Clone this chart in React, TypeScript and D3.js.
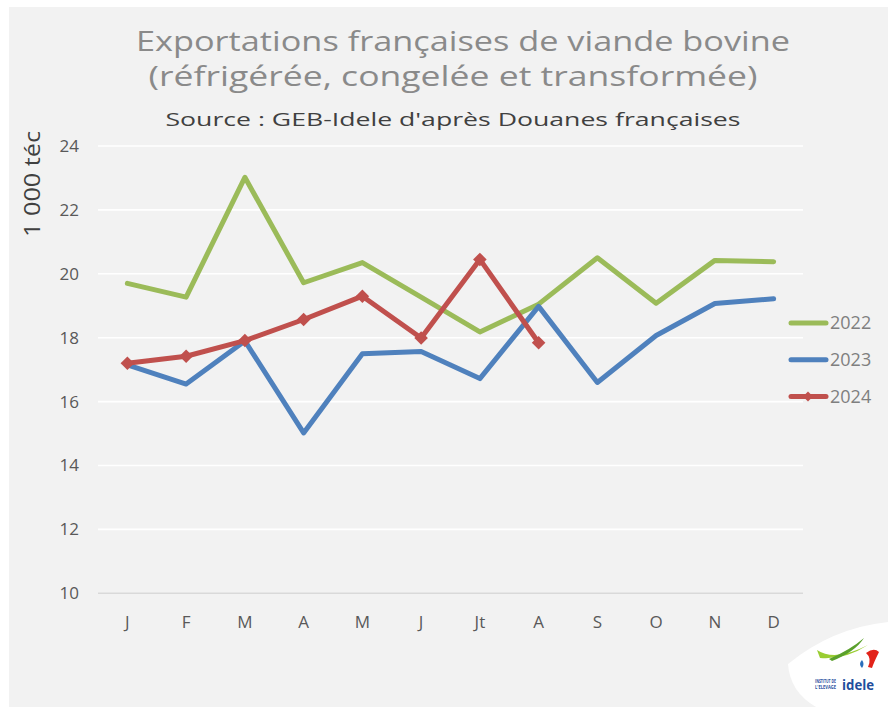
import React from "react";
import * as d3 from "d3";

// Exportations françaises de viande bovine (1 000 téc)
const months = ["J", "F", "M", "A", "M", "J", "Jt", "A", "S", "O", "N", "D"];
const v2022 = [19.7, 19.27, 23.02, 19.72, 20.35, 19.27, 18.18, 19.05, 20.5, 19.08, 20.42, 20.38];
const v2023 = [17.15, 16.55, 17.9, 15.02, 17.5, 17.57, 16.72, 18.98, 16.6, 18.07, 19.07, 19.22];
const v2024 = [17.2, 17.42, 17.91, 18.57, 19.3, 17.99, 20.45, 17.84];
const yTicks = [10, 12, 14, 16, 18, 20, 22, 24];
const seriesNames = ["2022", "2023", "2024"];

const colors = ["#9bbb59", "#4f81bd", "#c0504d"];
const font = "'Open Sans', 'DejaVu Sans', sans-serif";

const W = 888,
  H = 707;

const App = () => {
  const x = d3
    .scaleBand<number>()
    .domain(d3.range(months.length))
    .range([98, 803]);
  const y = d3.scaleLinear().domain([10, 24]).range([593.3, 146]);
  const cx = (i: number) => (x(i) as number) + x.bandwidth() / 2;

  const line = d3
    .line<number>()
    .x((d, i) => cx(i))
    .y((d) => y(d));

  const series = [v2022, v2023, v2024];
  const diamond = d3.symbol(d3.symbolSquare, 92)() as string;
  const smallDiamond = d3.symbol(d3.symbolSquare, 50)() as string;

  return (
    <svg
      width={W}
      height={H}
      style={{ position: "absolute", left: 0, top: 0 }}
      fontFamily={font}
    >
      <rect x={0} y={0} width={W} height={H} fill="#ffffff" />
      <rect x={9} y={7} width={W - 9} height={H - 7} fill="#f2f2f2" />

      {/* titles */}
      <text x={463} y={51} textAnchor="middle" fontSize={27} fill="#8a8a8a" textLength={654} lengthAdjust="spacingAndGlyphs">
        Exportations françaises de viande bovine
      </text>
      <text x={453} y={86} textAnchor="middle" fontSize={27} fill="#8a8a8a" textLength={609} lengthAdjust="spacingAndGlyphs">
        (réfrigérée, congelée et transformée)
      </text>
      <text x={453} y={126} textAnchor="middle" fontSize={19} fill="#404040" textLength={575} lengthAdjust="spacingAndGlyphs">
        Source : GEB-Idele d'après Douanes françaises
      </text>

      {/* y axis label */}
      <text
        transform="translate(40,184) rotate(-90)"
        textAnchor="middle"
        fontSize={21}
        fill="#404040"
        textLength={106}
        lengthAdjust="spacingAndGlyphs"
      >
        1 000 téc
      </text>

      {/* grid */}
      {yTicks.map((t) => (
        <g key={t}>
          <line
            x1={98}
            x2={803}
            y1={y(t)}
            y2={y(t)}
            stroke={t === 10 ? "#d9d9d9" : "#ffffff"}
            strokeWidth={1.6}
          />
          <text x={79} y={y(t)} dy="0.35em" textAnchor="end" fontSize={17} fill="#595959">
            {t}
          </text>
        </g>
      ))}

      {/* x labels */}
      {months.map((m, i) => (
        <text key={i} x={cx(i)} y={622} dy="0.35em" textAnchor="middle" fontSize={17} fill="#595959">
          {m}
        </text>
      ))}

      {/* lines */}
      {series.map((s, k) => (
        <path
          key={k}
          d={line(s) as string}
          fill="none"
          stroke={colors[k]}
          strokeWidth={5}
          strokeLinejoin="round"
          strokeLinecap="round"
        />
      ))}
      {v2024.map((v, i) => (
        <path
          key={i}
          d={diamond}
          transform={`translate(${cx(i)},${y(v)}) rotate(45)`}
          fill={colors[2]}
        />
      ))}

      {/* legend */}
      {seriesNames.map((n, k) => {
        const ly = 323 + k * 36.8;
        return (
          <g key={n}>
            <line x1={791} x2={826} y1={ly} y2={ly} stroke={colors[k]} strokeWidth={5} strokeLinecap="round" />
            {k === 2 && (
              <path d={smallDiamond} transform={`translate(808,${ly}) rotate(45)`} fill={colors[2]} />
            )}
            <text x={830} y={ly} dy="0.35em" fontSize={18} fill="#7f7f7f">
              {n}
            </text>
          </g>
        );
      })}

      {/* logo */}
      <path
        d="M788,664 Q832,628 888,622 L888,707 L816,707 Q790,692 788,664 Z"
        fill="#ffffff"
      />
      <path d="M817,650 Q835,662 868,645 Q845,660 820,658 Z" fill="#9acd32" />
      <path d="M829,659 Q850,650 864,638 Q855,652 832,661 Z" fill="#5aa02c" />
      <path d="M866,653 Q874,647 879,652 Q874,662 872,668 L868,667 Q872,658 866,653 Z" fill="#e2231a" />
      <path d="M862,660 Q865,664 862,668 Q858,664 862,660 Z" fill="#2a6ebb" />
      <text x={815} y={683} fontSize={4.5} fontWeight="bold" fill="#1f4e9c" textLength={21} lengthAdjust="spacingAndGlyphs">
        INSTITUT DE
      </text>
      <text x={815} y={689} fontSize={4.5} fontWeight="bold" fill="#1f4e9c" textLength={21} lengthAdjust="spacingAndGlyphs">
        L'ELEVAGE
      </text>
      <text x={842} y={690} fontSize={15} fontWeight="bold" fill="#1f4e9c" textLength={32} lengthAdjust="spacingAndGlyphs">
        idele
      </text>
    </svg>
  );
};

export default App;
